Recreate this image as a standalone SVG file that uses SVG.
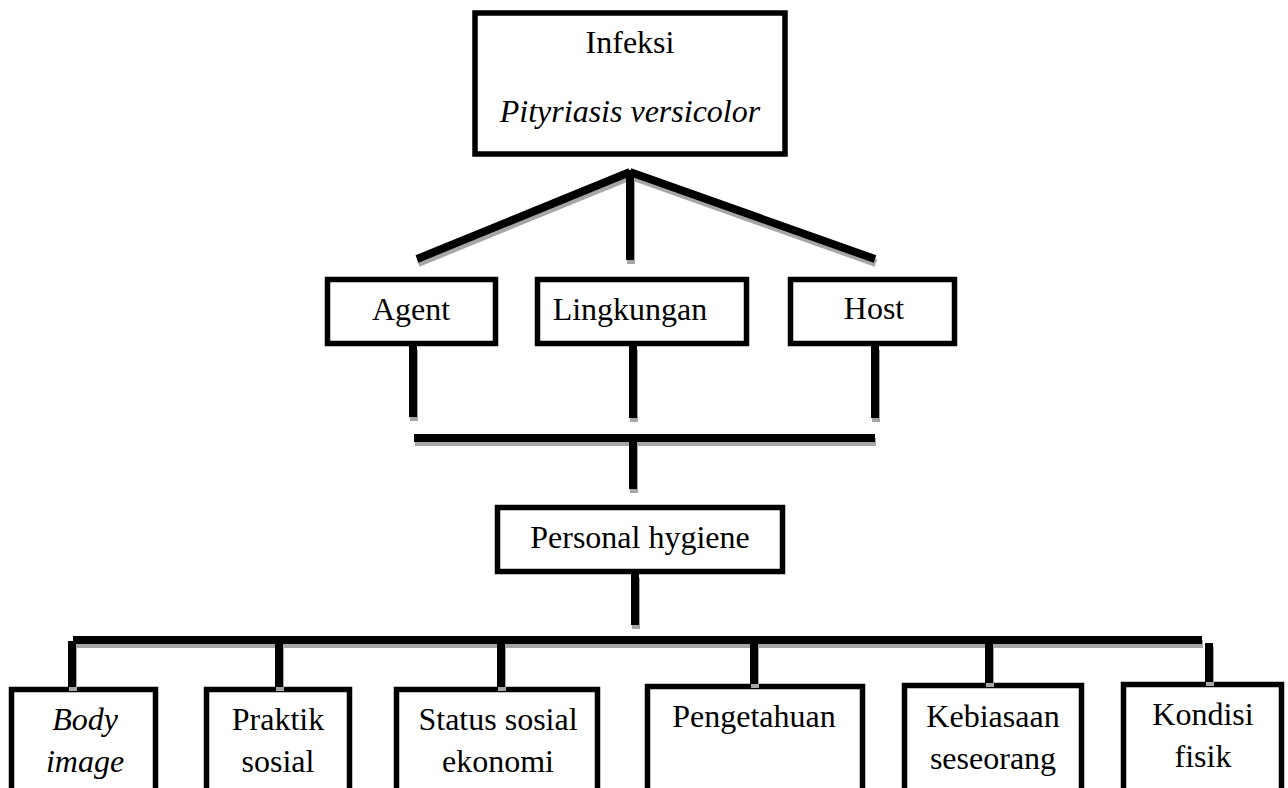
<svg xmlns="http://www.w3.org/2000/svg" xmlns:xlink="http://www.w3.org/1999/xlink" width="1288" height="788" viewBox="0 0 1288 788">
<style>
.box{fill:#fff;stroke:#000;stroke-width:5.5}
.t{font-family:"Liberation Serif","Times New Roman",serif;font-size:32px;fill:#000;text-anchor:middle}
.i{font-style:italic}
.shadow{stroke:#a6a6a6}
.main{stroke:#000}
</style>
<defs>
<g id="lines" fill="none" stroke-width="8" stroke-linecap="butt">
<line x1="630" y1="172" x2="417" y2="259"/>
<line x1="630" y1="170" x2="630" y2="260"/>
<line x1="630" y1="172" x2="875" y2="259"/>
<line x1="413" y1="346" x2="413" y2="417"/>
<line x1="633" y1="346" x2="633" y2="418"/>
<line x1="875" y1="346" x2="875" y2="418"/>
<line x1="414" y1="438" x2="875" y2="438"/>
<line x1="633" y1="438" x2="633" y2="489"/>
<line x1="635" y1="574" x2="635" y2="625"/>
<line x1="73" y1="640" x2="1202" y2="640"/>
<line x1="72" y1="641" x2="72" y2="687"/>
<line x1="279" y1="640" x2="279" y2="687"/>
<line x1="501" y1="640" x2="501" y2="687"/>
<line x1="754" y1="640" x2="754" y2="684"/>
<line x1="989" y1="640" x2="989" y2="683"/>
<line x1="1209" y1="643" x2="1209" y2="682"/>
</g>
</defs>
<g id="n-infeksi">
<rect class="box" x="475" y="13" width="310" height="141"/>
<text class="t" x="630" y="53">Infeksi</text>
<text class="t i" x="630" y="122">Pityriasis versicolor</text>
</g>
<g id="n-agent">
<rect class="box" x="327.5" y="279.5" width="168" height="64"/>
<text class="t" x="411" y="320">Agent</text>
</g>
<g id="n-lingkungan">
<rect class="box" x="537.5" y="279.5" width="209" height="64"/>
<text class="t" x="630" y="320">Lingkungan</text>
</g>
<g id="n-host">
<rect class="box" x="790.5" y="279.5" width="164" height="64"/>
<text class="t" x="874" y="319">Host</text>
</g>
<g id="n-personal">
<rect class="box" x="497.5" y="507.5" width="285" height="64"/>
<text class="t" x="640" y="548">Personal hygiene</text>
</g>
<g id="n-body">
<rect class="box" x="11.5" y="689.5" width="144" height="120"/>
<text class="t i" x="85" y="730">Body</text>
<text class="t i" x="85" y="772">image</text>
</g>
<g id="n-praktik">
<rect class="box" x="206.5" y="689.5" width="143" height="120"/>
<text class="t" x="278" y="730">Praktik</text>
<text class="t" x="278" y="772">sosial</text>
</g>
<g id="n-status">
<rect class="box" x="396.5" y="689.5" width="201" height="120"/>
<text class="t" x="498" y="730">Status sosial</text>
<text class="t" x="498" y="772">ekonomi</text>
</g>
<g id="n-pengetahuan">
<rect class="box" x="647.5" y="686.5" width="215" height="120"/>
<text class="t" x="754" y="727">Pengetahuan</text>
</g>
<g id="n-kebiasaan">
<rect class="box" x="904.5" y="685.5" width="177" height="120"/>
<text class="t" x="993" y="727">Kebiasaan</text>
<text class="t" x="993" y="769">seseorang</text>
</g>
<g id="n-kondisi">
<rect class="box" x="1123.5" y="684.5" width="158" height="120"/>
<text class="t" x="1203" y="725">Kondisi</text>
<text class="t" x="1203" y="767">fisik</text>
</g>
<g id="connectors">
<use xlink:href="#lines" href="#lines" class="shadow" transform="translate(1,4)"/>
<use xlink:href="#lines" href="#lines" class="main"/>
</g>
</svg>
